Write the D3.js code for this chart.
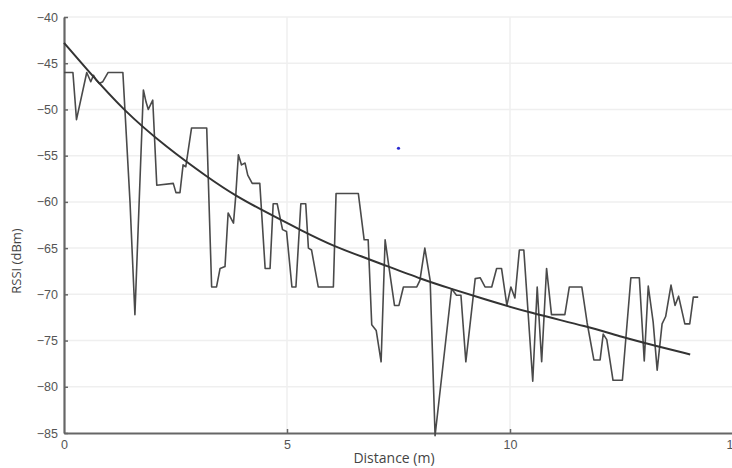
<!DOCTYPE html>
<html>
<head>
<meta charset="utf-8">
<script src="https://cdn.jsdelivr.net/npm/d3@7"></script>
<style>
  html, body { margin: 0; padding: 0; background: #fff; }
  svg { display: block; font-family: "Open Sans", "Noto Sans", sans-serif; }
</style>
</head>
<body>
<svg id="chart" width="732" height="468"></svg>
<script>
const distance = [0, 0.2, 0.28, 0.51, 0.6, 0.66, 0.72, 0.79, 0.87, 0.99, 1.32, 1.48, 1.59, 1.78, 1.84, 1.89, 1.99, 2.08,
  2.45, 2.51, 2.6, 2.67, 2.73, 2.86, 3.2, 3.31, 3.42, 3.5, 3.61, 3.68, 3.8, 3.85, 3.91, 3.98, 4.06, 4.12, 4.22, 4.39,
  4.51, 4.62, 4.69, 4.78, 4.9, 4.99, 5.11, 5.2, 5.31, 5.42, 5.48, 5.55, 5.7, 6.04, 6.1, 6.6, 6.73, 6.82, 6.9, 7.0,
  7.11, 7.2, 7.29, 7.41, 7.51, 7.61, 7.91, 7.98, 8.09, 8.21, 8.32, 8.69, 8.8, 8.9, 9.01, 9.22, 9.33, 9.44, 9.59, 9.7,
  9.81, 9.93, 10.02, 10.11, 10.21, 10.31, 10.51, 10.61, 10.71, 10.82, 10.93, 11.23, 11.33, 11.61, 11.73, 11.88, 12.02,
  12.09, 12.17, 12.31, 12.52, 12.71, 12.9, 13.01, 13.1, 13.21, 13.3, 13.41, 13.49, 13.61, 13.7, 13.78, 13.92, 14.03,
  14.11, 14.22];
const rssi = [-46, -46, -51.1, -46, -47, -46.3, -46.8, -47.2, -47, -46, -46, -60, -72.2, -47.9, -49.2, -50, -49, -58.2,
  -58, -59, -59, -56, -56.2, -52, -52, -69.2, -69.2, -67.2, -67, -61.2, -62.3, -59.4, -54.9, -56, -55.8, -57.1, -58, -58,
  -67.2, -67.2, -60.2, -60.2, -63, -63.2, -69.2, -69.2, -60.2, -60.2, -65, -65.2, -69.2, -69.2, -59.1, -59.1, -64.1, -64.1, -73.3, -73.9,
  -77.3, -64.1, -67.2, -71.2, -71.2, -69.2, -69.2, -68.5, -65, -68.5, -85.3, -69.4, -70.1, -70.1, -77.3, -68.3, -68.2, -69.2, -69.2, -67.2,
  -67.2, -71.2, -69.2, -70.4, -65.2, -65.2, -79.4, -69.2, -77.3, -67.2, -72.2, -72.2, -69.2, -69.2, -73.1, -77.1, -77.1,
  -74.3, -74.9, -79.3, -79.3, -68.2, -68.2, -77.2, -69.1, -73, -78.2, -73.2, -72.4, -69, -71.2, -70.2, -73.2, -73.2,
  -70.3, -70.3];

// Fitted path-loss curve
const fitDistance = [0, 0.5, 1.33, 2.3, 3.24, 3.83, 4.6, 5.29, 6.04, 6.9, 8.09, 8.69, 9.4, 10.45, 11.75, 12.5, 13.29, 14.04];
const fitRssi = [-42.8, -45.6, -50.1, -54.1, -57.4, -59.3, -61.3, -63.0, -64.8, -66.3, -68.5, -69.4, -70.5, -72.0, -73.5, -74.6, -75.6, -76.5];

// Stray marker
const markerDistance = [7.5];
const markerRssi = [-54.2];

const xTicks = [0, 5, 10, 15];
const yTicks = [-40, -45, -50, -55, -60, -65, -70, -75, -80, -85];
const xLabel = "Distance (m)";
const yLabel = "RSSI (dBm)";

const svg = d3.select("#chart");
const L = 64, R = 733, T = 17, B = 433;
const x = d3.scaleLinear().domain([0, 15]).range([L, R]);
const y = d3.scaleLinear().domain([-85, -40]).range([B, T]);

// grid
const grid = svg.append("g");
grid.selectAll("line.h").data(yTicks.slice(0, -1)).join("line")
  .attr("x1", L).attr("x2", 732).attr("y1", d => y(d)).attr("y2", d => y(d))
  .attr("stroke", "#efefef").attr("stroke-width", 1.5);
grid.selectAll("line.v").data([5, 10]).join("line")
  .attr("x1", d => x(d)).attr("x2", d => x(d)).attr("y1", T).attr("y2", B)
  .attr("stroke", "#efefef").attr("stroke-width", 1.5);

// axes
const yAxis = svg.append("g").attr("transform", `translate(${L},0)`)
  .call(d3.axisLeft(y).tickValues(yTicks).tickSize(-4).tickSizeOuter(0).tickPadding(6).tickFormat(d3.format("d")));
const xAxis = svg.append("g").attr("transform", `translate(0,${B})`)
  .call(d3.axisBottom(x).tickValues(xTicks).tickSize(-4).tickSizeOuter(0).tickPadding(7).tickFormat(d3.format("d")));
[yAxis, xAxis].forEach(a => {
  a.select(".domain").attr("stroke", "#666").attr("stroke-width", 2.2);
  a.selectAll(".tick line").attr("stroke", "#666").attr("stroke-width", 1.5);
  a.selectAll(".tick text").attr("fill", "#555").attr("font-size", 12.5);
});
xAxis.selectAll(".tick").filter(d => d === 0).select("line").remove();

// measured line
const pts = distance.map((d, i) => [d, rssi[i]]);
svg.append("path").datum(pts)
  .attr("fill", "none").attr("stroke", "#4a4a4a").attr("stroke-width", 1.6).attr("stroke-linejoin", "round")
  .attr("d", d3.line().x(d => x(d[0])).y(d => y(d[1])));

// fit curve
const fit = fitDistance.map((d, i) => [d, fitRssi[i]]);
svg.append("path").datum(fit)
  .attr("fill", "none").attr("stroke", "#333").attr("stroke-width", 2)
  .attr("d", d3.line().curve(d3.curveBasis).x(d => x(d[0])).y(d => y(d[1])));

// marker
svg.selectAll("circle.m").data(markerDistance).join("circle")
  .attr("cx", d => x(d)).attr("cy", (d, i) => y(markerRssi[i])).attr("r", 1.6).attr("fill", "#2a2ad0");

// labels
svg.append("text").attr("x", 394).attr("y", 463).attr("text-anchor", "middle")
  .attr("font-size", 14).attr("fill", "#444").text(xLabel);
svg.append("text").attr("transform", "translate(21,261) rotate(-90)").attr("text-anchor", "middle")
  .attr("font-size", 13).attr("fill", "#444").text(yLabel);
</script>
</body>
</html>
